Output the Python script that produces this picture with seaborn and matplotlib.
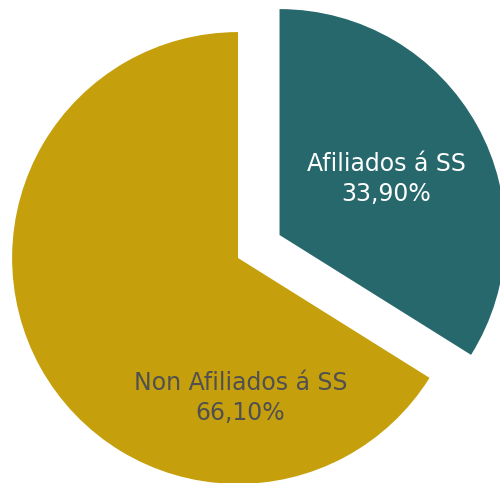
import numpy as np
import matplotlib
matplotlib.use("Agg")
from matplotlib import pyplot as plt
import seaborn as sns

labels = ["Afiliados á SS", "Non Afiliados á SS"]
values = [33.90, 66.10]
colors = ["#26686c", "#c5a00c"]
text_colors = ["white", "#505050"]
explode = [0.21, 0.0]
# label positions (data units, radius = 1)
label_pos = [(0.655, 0.35), (0.01, -0.62)]

sns.set_theme(style="white")
plt.rcParams['font.family'] = ['DejaVu Sans']

fig = plt.figure(figsize=(5.0, 4.83), dpi=100)
ax = fig.add_axes([0, 0, 1, 1])
ax.pie(values, colors=colors, explode=explode, startangle=90,
       counterclock=False, radius=1.0, wedgeprops={'linewidth': 0})

for lab, v, (x, y), c in zip(labels, values, label_pos, text_colors):
    txt = lab + "\n" + ("%.2f%%" % v).replace(".", ",")
    ax.text(x, y, txt, ha='center', va='center', color=c,
            fontsize=17, linespacing=1.3)

ax.set_xlim(-1.053, 1.159)
ax.set_ylim(-0.996, 1.142)
ax.set_aspect('equal')
ax.axis('off')
fig.savefig("out.png", dpi=100)
